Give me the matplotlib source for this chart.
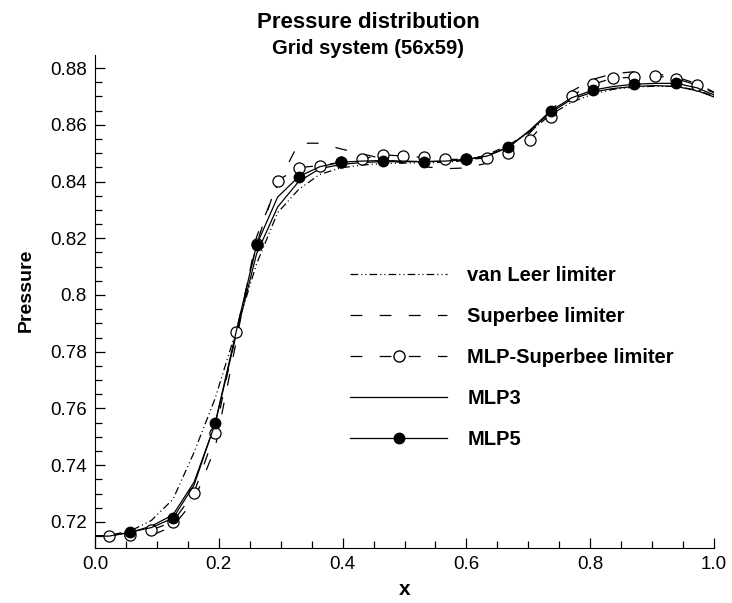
import matplotlib
matplotlib.use("Agg")
import matplotlib.pyplot as plt
from matplotlib.lines import Line2D
from matplotlib.ticker import MultipleLocator, FuncFormatter

# values
x = [0.0, 0.023, 0.057, 0.091, 0.126, 0.160, 0.194, 0.228, 0.261, 0.295,
     0.329, 0.363, 0.397, 0.431, 0.465, 0.498, 0.532, 0.566, 0.600, 0.634,
     0.668, 0.702, 0.736, 0.770, 0.804, 0.837, 0.871, 0.905, 0.939, 0.973, 1.0]

van_leer = [0.715, 0.7153, 0.7168, 0.7205, 0.728, 0.7445, 0.7635, 0.7875, 0.811, 0.829,
            0.8372, 0.8425, 0.8448, 0.8458, 0.8463, 0.8465, 0.8466, 0.8468, 0.8474, 0.8495,
            0.8528, 0.8575, 0.8635, 0.868, 0.8708, 0.8725, 0.8733, 0.8736, 0.8735, 0.8722, 0.870]

superbee = [0.715, 0.715, 0.715, 0.7152, 0.7185, 0.7275, 0.746, 0.7835, 0.8205, 0.839,
            0.8535, 0.8535, 0.8515, 0.8498, 0.848, 0.8465, 0.8452, 0.8445, 0.8448, 0.8465,
            0.851, 0.857, 0.865, 0.8718, 0.876, 0.878, 0.8787, 0.878, 0.8768, 0.8745, 0.8715]

mlp_superbee = [0.715, 0.7152, 0.7155, 0.7171, 0.7201, 0.7303, 0.7513, 0.7869, 0.818, 0.8403,
                0.8449, 0.8456, 0.8468, 0.848, 0.8494, 0.849, 0.8485, 0.8478, 0.8478, 0.8483,
                0.8501, 0.8547, 0.8629, 0.8703, 0.8742, 0.8765, 0.8767, 0.8773, 0.8762, 0.874, 0.8712]

mlp3 = [0.715, 0.715, 0.7163, 0.7185, 0.7225, 0.734, 0.7545, 0.786, 0.8145, 0.831,
        0.840, 0.8445, 0.846, 0.8467, 0.847, 0.847, 0.847, 0.8472, 0.8477, 0.8492,
        0.8522, 0.8578, 0.8643, 0.869, 0.8715, 0.8728, 0.8735, 0.8738, 0.8735, 0.872, 0.8698]

mlp5 = [0.715, 0.715, 0.7164, 0.718, 0.7213, 0.733, 0.7547, 0.787, 0.8176, 0.8345,
        0.8417, 0.8452, 0.8468, 0.8472, 0.8474, 0.8472, 0.847, 0.8472, 0.8478, 0.849,
        0.852, 0.858, 0.8649, 0.8695, 0.8722, 0.8735, 0.8743, 0.8746, 0.8746, 0.873, 0.8705]

labels = ["van Leer limiter", "Superbee limiter", "MLP-Superbee limiter", "MLP3", "MLP5"]

plt.rcParams["lines.scale_dashes"] = False
plt.rcParams["font.family"] = ["Liberation Sans", "DejaVu Sans"]

dd = (5.5, 2.2, 0.8, 2.2, 0.8, 2.2)   # dash-dot-dot
dash = (8.5, 12.5)
lw = 0.9

fig = plt.figure(figsize=(7.32, 6.03), dpi=100)
ax = fig.add_axes([0.1298, 0.0912, 0.8456, 0.8176])

ax.plot(x, van_leer, color="black", lw=lw, dashes=dd)
ax.plot(x, superbee, color="black", lw=lw, dashes=dash)
ax.plot(x, mlp3, color="black", lw=lw)
ax.plot(x, mlp_superbee, color="black", lw=lw, dashes=dash, marker="o", ms=8,
        mfc="white", mec="black", mew=0.9, markevery=list(range(1, 30)))
ax.plot(x, mlp5, color="black", lw=lw, marker="o", ms=7.5, mfc="black",
        mec="black", markevery=slice(2, 29, 2))

ax.set_xlim(0, 1)
ax.set_ylim(0.7108, 0.8846)
ax.xaxis.set_major_locator(MultipleLocator(0.2))
ax.xaxis.set_minor_locator(MultipleLocator(0.05))
ax.yaxis.set_major_locator(MultipleLocator(0.02))
ax.yaxis.set_minor_locator(MultipleLocator(0.005))
ax.xaxis.set_major_formatter(FuncFormatter(lambda v, p: "%.1f" % v))
ax.yaxis.set_major_formatter(FuncFormatter(lambda v, p: "%g" % round(v, 3)))
ax.tick_params(which="both", direction="in", labelsize=13.5, width=0.9)
ax.tick_params(which="major", length=7, pad=6)
ax.tick_params(which="minor", length=5)
ax.spines["top"].set_visible(False)
ax.spines["right"].set_visible(False)

ax.set_xlabel("x", fontsize=15, fontweight="bold", labelpad=5)
ax.set_ylabel("Pressure", fontsize=14, fontweight="bold")
ax.yaxis.set_label_coords(-0.097, 0.523)

fig.text(0.503, 0.9635, "Pressure distribution", ha="center", va="center",
         fontsize=16, fontweight="bold")
fig.text(0.503, 0.920, "Grid system (56x59)", ha="center", va="center",
         fontsize=14.5, fontweight="bold")

handles = [
    Line2D([], [], color="black", lw=lw, dashes=dd),
    Line2D([], [], color="black", lw=lw, dashes=dash),
    Line2D([], [], color="black", lw=lw, dashes=dash, marker="o", ms=8, mfc="white", mec="black"),
    Line2D([], [], color="black", lw=lw),
    Line2D([], [], color="black", lw=lw, marker="o", ms=7.5, mfc="black", mec="black"),
]
ax.legend(handles, labels, loc="upper left", bbox_to_anchor=(0.412, 0.572),
          frameon=False, numpoints=1, handlelength=4.83, handletextpad=0.99,
          labelspacing=1.09, borderpad=0, borderaxespad=0,
          prop={"weight": "bold", "size": 14.5})

fig.savefig("out.png", dpi=100)
